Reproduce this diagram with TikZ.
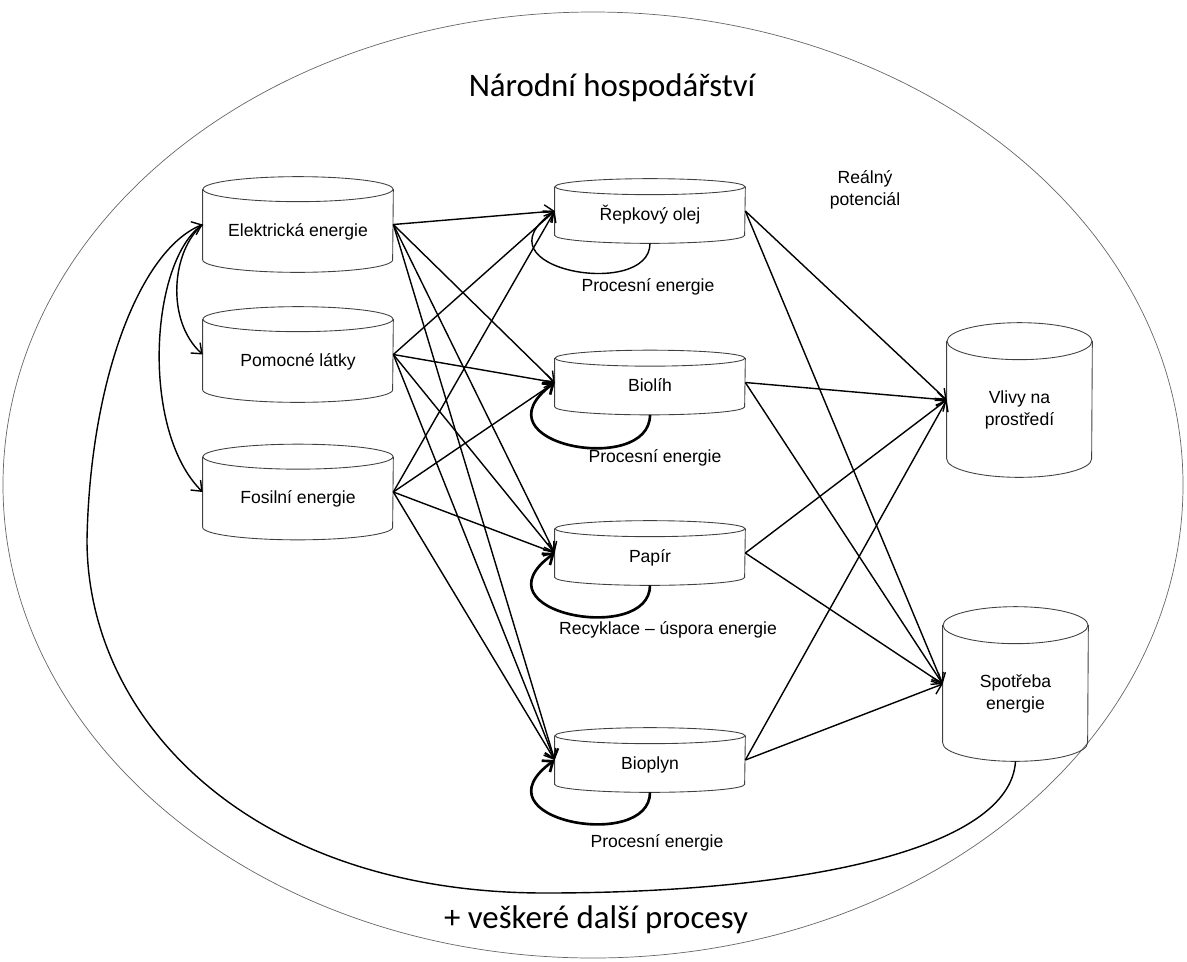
\documentclass[tikz,border=0pt]{standalone}
\usepackage{fontspec}
\setmainfont{Liberation Sans}
\newfontfamily\velkypismo{Carlito}
\usetikzlibrary{arrows.meta}

% obrys valce kolem uzlu: #1 uzel, #2 vodorovna poloosa, #3 svisla poloosa
\newcommand{\obrysvalce}[3]{%
  \draw [obrys] ([yshift=-#3]#1.north west) -- ([yshift=#3]#1.south west)
    arc [start angle=180,end angle=360,x radius=#2,y radius=#3]
    -- ([yshift=-#3]#1.north east);
  \draw [obrys] ([yshift=-#3]#1.north) ellipse [x radius=#2,y radius=#3];
}

\begin{document}
\begin{tikzpicture}[x=0.02cm,y=-0.02cm,
  >={Straight Barb[length=5pt,width=8pt]},
  obrys/.style={draw=black!75,line width=0.5pt},
  valec/.style={rectangle,inner sep=0pt,align=center,
    font=\fontsize{10}{12.8}\selectfont,text depth=0pt},
  vlevo/.style={valec,minimum width=3.8cm,minimum height=1.9cm,text height=13.5pt},
  stred/.style={valec,minimum width=3.8cm,minimum height=1.28cm,text height=10.8pt},
  vpravo/.style={valec,minimum width=2.9cm,minimum height=3.08cm,text height=29.5pt},
  popis/.style={font=\fontsize{10}{12.8}\selectfont,align=center},
  nadpis/.style={font=\velkypismo\fontsize{18.7}{23}\selectfont},
  tok/.style={->,line width=0.8pt},
  smycka/.style={->,line width=1.5pt}]

\useasboundingbox (0,0) rectangle (1187,961);
\draw [black!60,line width=0.4pt] (593,485) ellipse [x radius=590,y radius=473];

\node[nadpis] (hospodarstvi) at (612,88) {Národní hospodářství};
\node[nadpis] (procesy) at (596,920) {+ veškeré další procesy};

% vstupy
\node[vlevo] (elektr) at (298,224.5) {Elektrická energie};
\node[vlevo] (pomoc) at (298,354.5) {Pomocné látky};
\node[vlevo] (fosil) at (298,492) {Fosilní energie};

% procesy
\node[stred] (repka) at (650,211) {Řepkový olej};
\node[stred] (biolih) at (650,382.5) {Biolíh};
\node[stred] (papir) at (650,553) {Papír};
\node[stred] (bioplyn) at (650,760) {Bioplyn};

% vystupy
\node[vpravo] (vlivy) at (1019.5,400) {Vlivy na\\prostředí};
\node[vpravo] (spotreba) at (1015.5,684) {Spotřeba\\energie};

\obrysvalce{elektr}{1.9cm}{0.25cm}
\obrysvalce{pomoc}{1.9cm}{0.25cm}
\obrysvalce{fosil}{1.9cm}{0.25cm}
\obrysvalce{repka}{1.9cm}{0.16cm}
\obrysvalce{biolih}{1.9cm}{0.16cm}
\obrysvalce{papir}{1.9cm}{0.16cm}
\obrysvalce{bioplyn}{1.9cm}{0.16cm}
\obrysvalce{vlivy}{1.45cm}{0.37cm}
\obrysvalce{spotreba}{1.45cm}{0.37cm}

\node[popis] (realny) at (865,190) {Reálný\\potenciál};
\node[popis] (proces1) at (648,287) {Procesní energie};
\node[popis] (proces2) at (655,458) {Procesní energie};
\node[popis] (recyklace) at (668,630) {Recyklace – úspora energie};
\node[popis] (proces4) at (657,843) {Procesní energie};

\draw [tok] (elektr.east) -- (repka.west);
\draw [tok] (elektr.east) -- (biolih.west);
\draw [tok] (elektr.east) -- (papir.west);
\draw [tok] (elektr.east) -- (bioplyn.west);
\draw [tok] (pomoc.east) -- (repka.west);
\draw [tok] (pomoc.east) -- (biolih.west);
\draw [tok] (pomoc.east) -- (papir.west);
\draw [tok] (pomoc.east) -- (bioplyn.west);
\draw [tok] (fosil.east) -- (repka.west);
\draw [tok] (fosil.east) -- (biolih.west);
\draw [tok] (fosil.east) -- (papir.west);
\draw [tok] (fosil.east) -- (bioplyn.west);

\draw [tok] (repka.east) -- (vlivy.west);
\draw [tok] (repka.east) -- (spotreba.west);
\draw [tok] (biolih.east) -- (vlivy.west);
\draw [tok] (biolih.east) -- (spotreba.west);
\draw [tok] (papir.east) -- (vlivy.west);
\draw [tok] (papir.east) -- (spotreba.west);
\draw [tok] (bioplyn.east) -- (vlivy.west);
\draw [tok] (bioplyn.east) -- (spotreba.west);

% smycky
\draw [tok] (repka.south) .. controls +(0,57) and +(-83,58) .. (repka.west);
\draw [smycka] (biolih.south) .. controls +(0,62) and +(-83,62) .. (biolih.west);
\draw [smycka] (papir.south) .. controls +(0,60) and +(-83,60) .. (papir.west);
\draw [smycka] (bioplyn.south) .. controls +(0,60) and +(-83,60) .. (bioplyn.west);

\draw [tok] (spotreba.south) .. controls (1010,850) and (800,893) .. (545,893)
  .. controls (250,893) and (87,720) .. (87,540)
  .. controls (90,380) and (140,250) .. (elektr.west);
\draw [tok] (elektr.west) .. controls (172,250) and (165,320) .. (pomoc.west);
\draw [tok] (elektr.west) .. controls (150,260) and (140,430) .. (fosil.west);
\end{tikzpicture}
\end{document}
